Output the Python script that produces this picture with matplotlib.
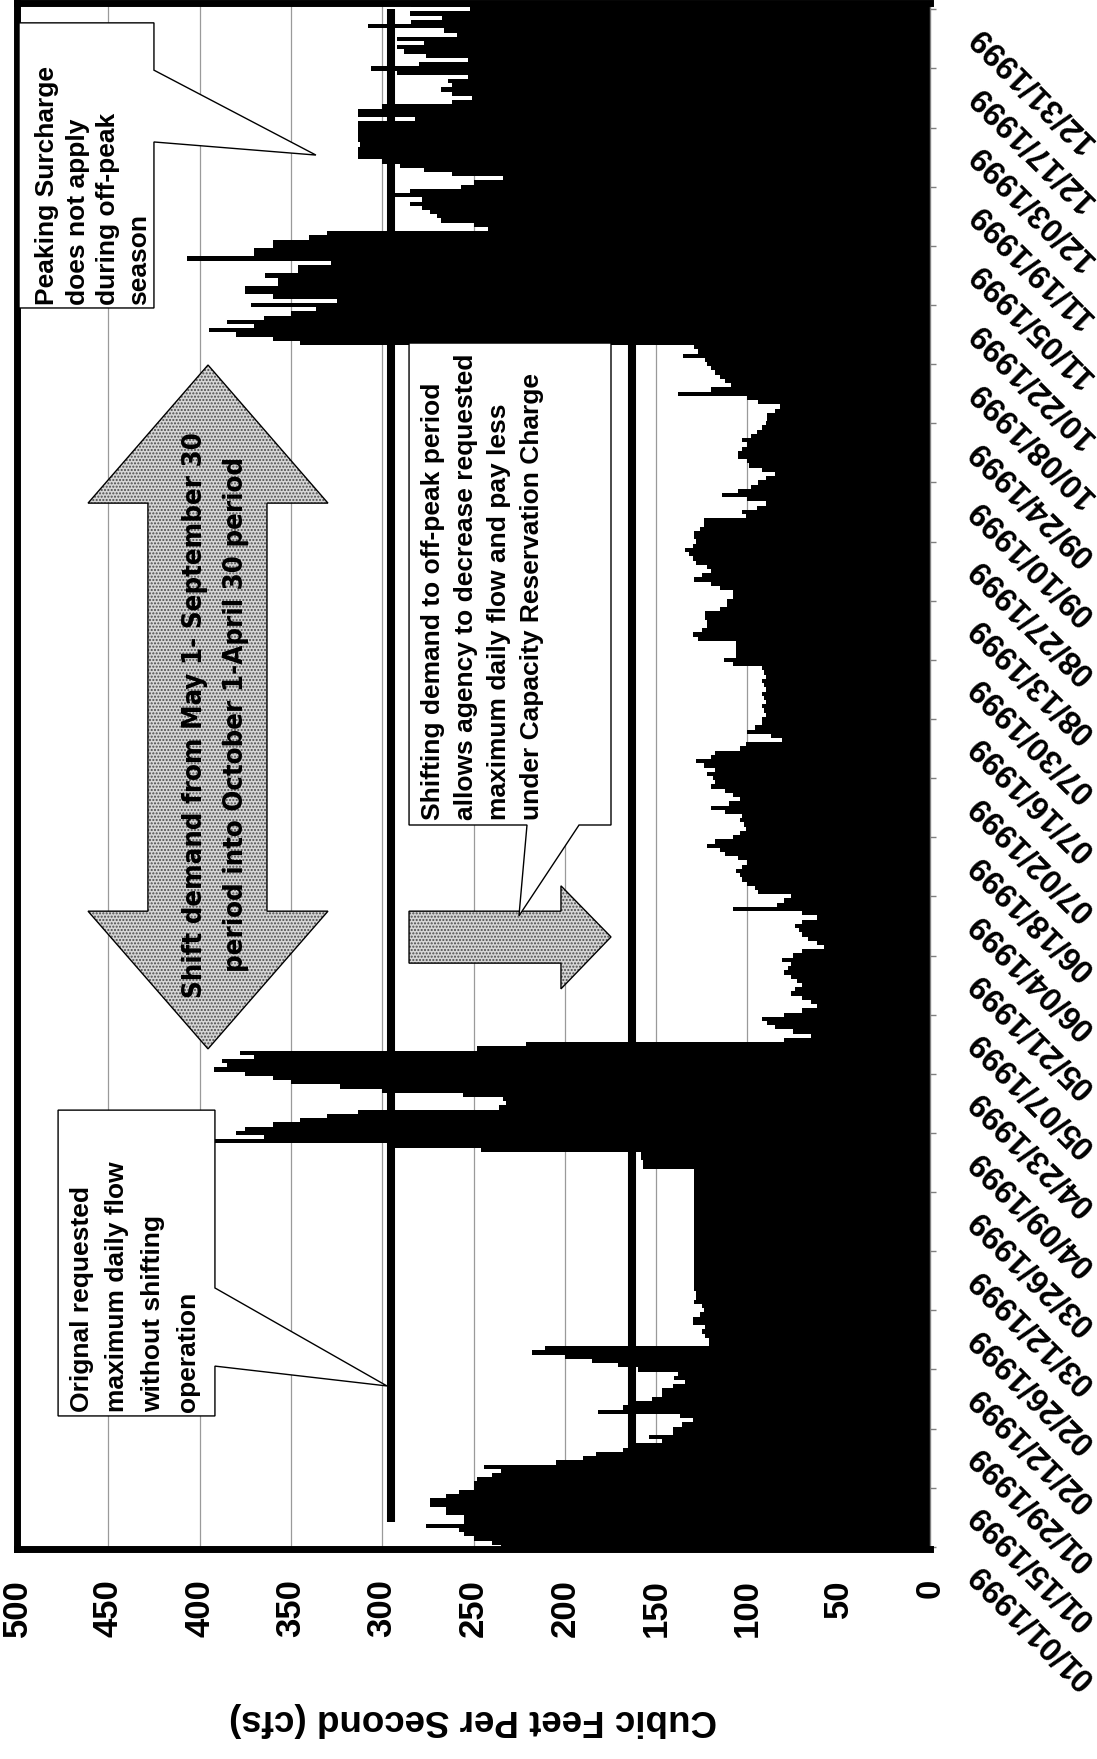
import numpy as np
import matplotlib.pyplot as plt
import matplotlib.transforms as mtransforms
from matplotlib import font_manager
from matplotlib.patches import Polygon

plt.rcParams['font.family'] = 'Liberation Sans'
plt.rcParams['font.weight'] = 'bold'

# daily requested flow, cfs (1999, plus the first day of 2000)
jan = [235, 240, 250, 255, 258, 276, 255, 255, 265, 265, 274, 274, 265, 258, 250, 250,
       248, 240, 235, 244, 205, 190, 183, 168, 165, 147, 154, 141, 141, 136, 130]
feb = [137, 182, 168, 161, 152, 147, 147, 141, 134, 140, 138, 160, 171, 185, 200, 218,
       211, 121, 121, 123, 125, 123, 130, 130, 126, 124, 125, 129]
mar = [128, 128, 129, 129, 129, 129, 129, 129, 129, 129, 129, 129, 129, 129, 129, 129,
       129, 129, 129, 129, 129, 129, 129, 129, 129, 129, 129, 129, 129, 129, 129]
apr = [157, 157, 158, 158, 246, 297, 392, 365, 380, 375, 360, 345, 330, 313, 236, 232,
       234, 256, 300, 323, 350, 360, 375, 392, 385, 388, 370, 378, 248, 221]
may = [80, 65, 75, 85, 89, 92, 80, 70, 62, 65, 70, 76, 74, 70, 73, 76,
       80, 78, 76, 81, 75, 70, 58, 62, 67, 70, 72, 74, 70, 62, 70]
jun = [108, 84, 80, 76, 94, 96, 100, 103, 104, 106, 103, 100, 105, 112, 115, 122,
       118, 108, 104, 101, 102, 104, 103, 112, 120, 110, 104, 108, 112, 120]
jul = [118, 119, 122, 118, 124, 128, 120, 118, 104, 101, 81, 87, 100, 96, 92, 92,
       90, 91, 92, 90, 91, 92, 90, 91, 92, 90, 91, 92, 108, 113, 106]
aug = [106, 106, 106, 127, 130, 125, 122, 122, 123, 123, 115, 111, 111, 108, 108, 115,
       120, 129, 125, 120, 122, 128, 130, 132, 134, 130, 128, 129, 129, 126, 124]
sep = [124, 101, 103, 95, 90, 100, 114, 105, 98, 94, 90, 85, 92, 99, 100, 105,
       105, 103, 100, 103, 98, 95, 92, 90, 89, 89, 85, 82, 94, 100]
oct = [138, 120, 109, 112, 115, 118, 120, 122, 123, 135, 127, 129, 345, 360, 380, 395,
       370, 385, 365, 350, 336, 372, 325, 360, 375, 375, 357, 357, 364, 346, 346]
nov = [328, 407, 370, 370, 360, 360, 340, 330, 242, 250, 268, 270, 274, 278, 285, 278,
       293, 285, 257, 250, 234, 262, 277, 290, 300, 313, 313, 313, 312, 313]
dec = [313, 313, 313, 313, 282, 313, 313, 300, 262, 251, 262, 268, 262, 264, 253, 292,
       306, 280, 253, 276, 288, 292, 277, 292, 259, 266, 308, 284, 267, 285, 252]
jan_2000 = [284]

flow = jan + feb + mar + apr + may + jun + jul + aug + sep + oct + nov + dec + jan_2000
days = np.arange(len(flow))

original_max = 295   # requested max daily flow without shifting
shifted_max = 163    # requested max daily flow after shifting
line_days = [6, 364]

value_ticks = [0, 50, 100, 150, 200, 250, 300, 350, 400, 450, 500]
date_ticks = list(range(0, 365, 14))
date_labels = ['01/01/1999', '01/15/1999', '01/29/1999', '02/12/1999', '02/26/1999',
               '03/12/1999', '03/26/1999', '04/09/1999', '04/23/1999', '05/07/1999',
               '05/21/1999', '06/04/1999', '06/18/1999', '07/02/1999', '07/16/1999',
               '07/30/1999', '08/13/1999', '08/27/1999', '09/10/1999', '09/24/1999',
               '10/08/1999', '10/22/1999', '11/05/1999', '11/19/1999', '12/03/1999',
               '12/17/1999', '12/31/1999']

W, H = 1097, 1759
fig = plt.figure(figsize=(W / 100, H / 100), dpi=100)
ax = fig.add_axes([17 / W, 1 - 1549 / H, (930 - 17) / W, (1549 - 3) / H])

ax.set_xlim(500, 0)
ax.set_ylim(-0.5, 365.5)

ax.set_xticks(value_ticks)
ax.xaxis.grid(True, color='#9a9a9a', lw=0.9)
ax.set_axisbelow(True)

ax.barh(days, flow, height=1.0, color='black', lw=0, zorder=2)
ax.plot([original_max, original_max], line_days, color='black', lw=5.8,
        solid_capstyle='butt', zorder=3)
ax.plot([shifted_max, shifted_max], line_days, color='black', lw=5.8,
        solid_capstyle='butt', zorder=3)

for side in ['left', 'top', 'bottom']:
    ax.spines[side].set_linewidth(5)
    ax.spines[side].set_color('black')
ax.spines['right'].set_linewidth(1)
ax.spines['right'].set_color('#808080')

# value axis along the bottom
ax.tick_params(axis='x', length=0, pad=21.6)
ax.set_xticklabels([str(v) for v in value_ticks], rotation=90, va='top', ha='center',
                   fontsize=25)

# date axis along the right
ax.yaxis.tick_right()
ax.set_yticks(date_ticks)
ax.set_yticklabels(date_labels, rotation=135, rotation_mode='anchor', ha='right',
                   va='center', fontsize=23.5)
ax.tick_params(axis='y', length=4.3, width=1, color='#808080', pad=27.4)
shift_down = mtransforms.ScaledTranslation(0, -21 / 100, fig.dpi_scale_trans)
for lab in ax.get_yticklabels():
    lab.set_transform(lab.get_transform() + shift_down)

fig.text(473 / W, 1 - 1720 / H, 'Cubic Feet Per Second (cfs)', rotation=180,
         ha='center', va='center', fontsize=26.5)

# callout boxes
box_style = dict(facecolor='white', edgecolor='black', lw=1.0, zorder=5)
peak_box = [(498.9, 360.8), (425.0, 360.8), (425.0, 349.6), (336.3, 329.5),
            (425.0, 332.6), (425.0, 293.3), (498.9, 293.3)]
orig_box = [(477.5, 103.4), (391.6, 103.4), (391.6, 61.3), (297.4, 38.1),
            (391.6, 42.8), (391.6, 31.0), (477.5, 31.0)]
shift_box = [(285.3, 285.0), (174.7, 285.0), (174.7, 170.9), (192.2, 170.9),
             (225.1, 149.4), (220.7, 170.9), (285.3, 170.9)]
for pts in [peak_box, orig_box, shift_box]:
    ax.add_patch(Polygon(pts, closed=True, **box_style))

txt = dict(rotation=90, rotation_mode='anchor', ha='left', va='top', fontsize=19,
           zorder=6)
ax.text(490.0, 294.1, 'Peaking Surcharge\ndoes not apply\nduring off-peak\nseason',
        linespacing=1.34, **txt)
ax.text(471.0, 31.9, 'Orignal requested\nmaximum daily flow\nwithout shifting\noperation',
        linespacing=1.6, **txt)
ax.text(278.8, 172.1, 'Shifting demand to off-peak period\nallows agency to decrease '
        'requested\nmaximum daily flow and pay less\nunder Capacity Reservation Charge',
        linespacing=1.47, **txt)

# block arrows with stippled fill
big_arrow = [(395.4, 117.9), (329.7, 150.5), (363.1, 150.5), (363.1, 247.1),
             (329.7, 247.1), (395.4, 279.8), (461.1, 247.1), (428.3, 247.1),
             (428.3, 150.5), (461.1, 150.5)]
small_arrow = [(285.3, 150.5), (202.1, 150.5), (202.1, 156.5), (174.7, 144.4),
               (202.1, 132.1), (202.1, 138.2), (285.3, 138.2)]
for pts in [big_arrow, small_arrow]:
    ax.add_patch(Polygon(pts, closed=True, facecolor='#d6d6d6', edgecolor='#4a4a4a',
                         hatch='.....', lw=0, zorder=4))
    ax.add_patch(Polygon(pts, closed=True, fill=False, edgecolor='black', lw=1.0,
                         zorder=4.5))


def narrow_bold_file():
    """Path of a bold condensed sans face if one is installed."""
    def is_bold(f):
        w = f.weight if isinstance(f.weight, int) else font_manager.weight_dict.get(f.weight, 400)
        return w >= 600 and f.style == 'normal'
    fonts = font_manager.fontManager.ttflist
    for name in ['Liberation Sans Narrow', 'Arial Narrow']:
        for f in fonts:
            if f.name == name and is_bold(f):
                return f.fname
    for f in fonts:
        if str(f.stretch) in ('condensed', 'semi-condensed', 'extra-condensed') and is_bold(f):
            return f.fname
    return None


arrow_lines = ['Shift demand from May 1- September 30',
               'period into October 1-April 30 period']
arrow_x = [402.5, 380.0]
narrow = narrow_bold_file()
extra = dict(fontproperties=font_manager.FontProperties(fname=narrow)) if narrow else {}
arrow_texts = [ax.text(x, 197, s, rotation=90, ha='center', va='center', zorder=6,
                       fontsize=21.5, **extra)
               for x, s in zip(arrow_x, arrow_lines)]
# size the arrow caption so the first line runs about 566 px
fig.canvas.draw()
span = arrow_texts[0].get_window_extent().height
for t in arrow_texts:
    t.set_fontsize(21.5 * 566 / span)

fig.savefig('out.png', dpi=100)
